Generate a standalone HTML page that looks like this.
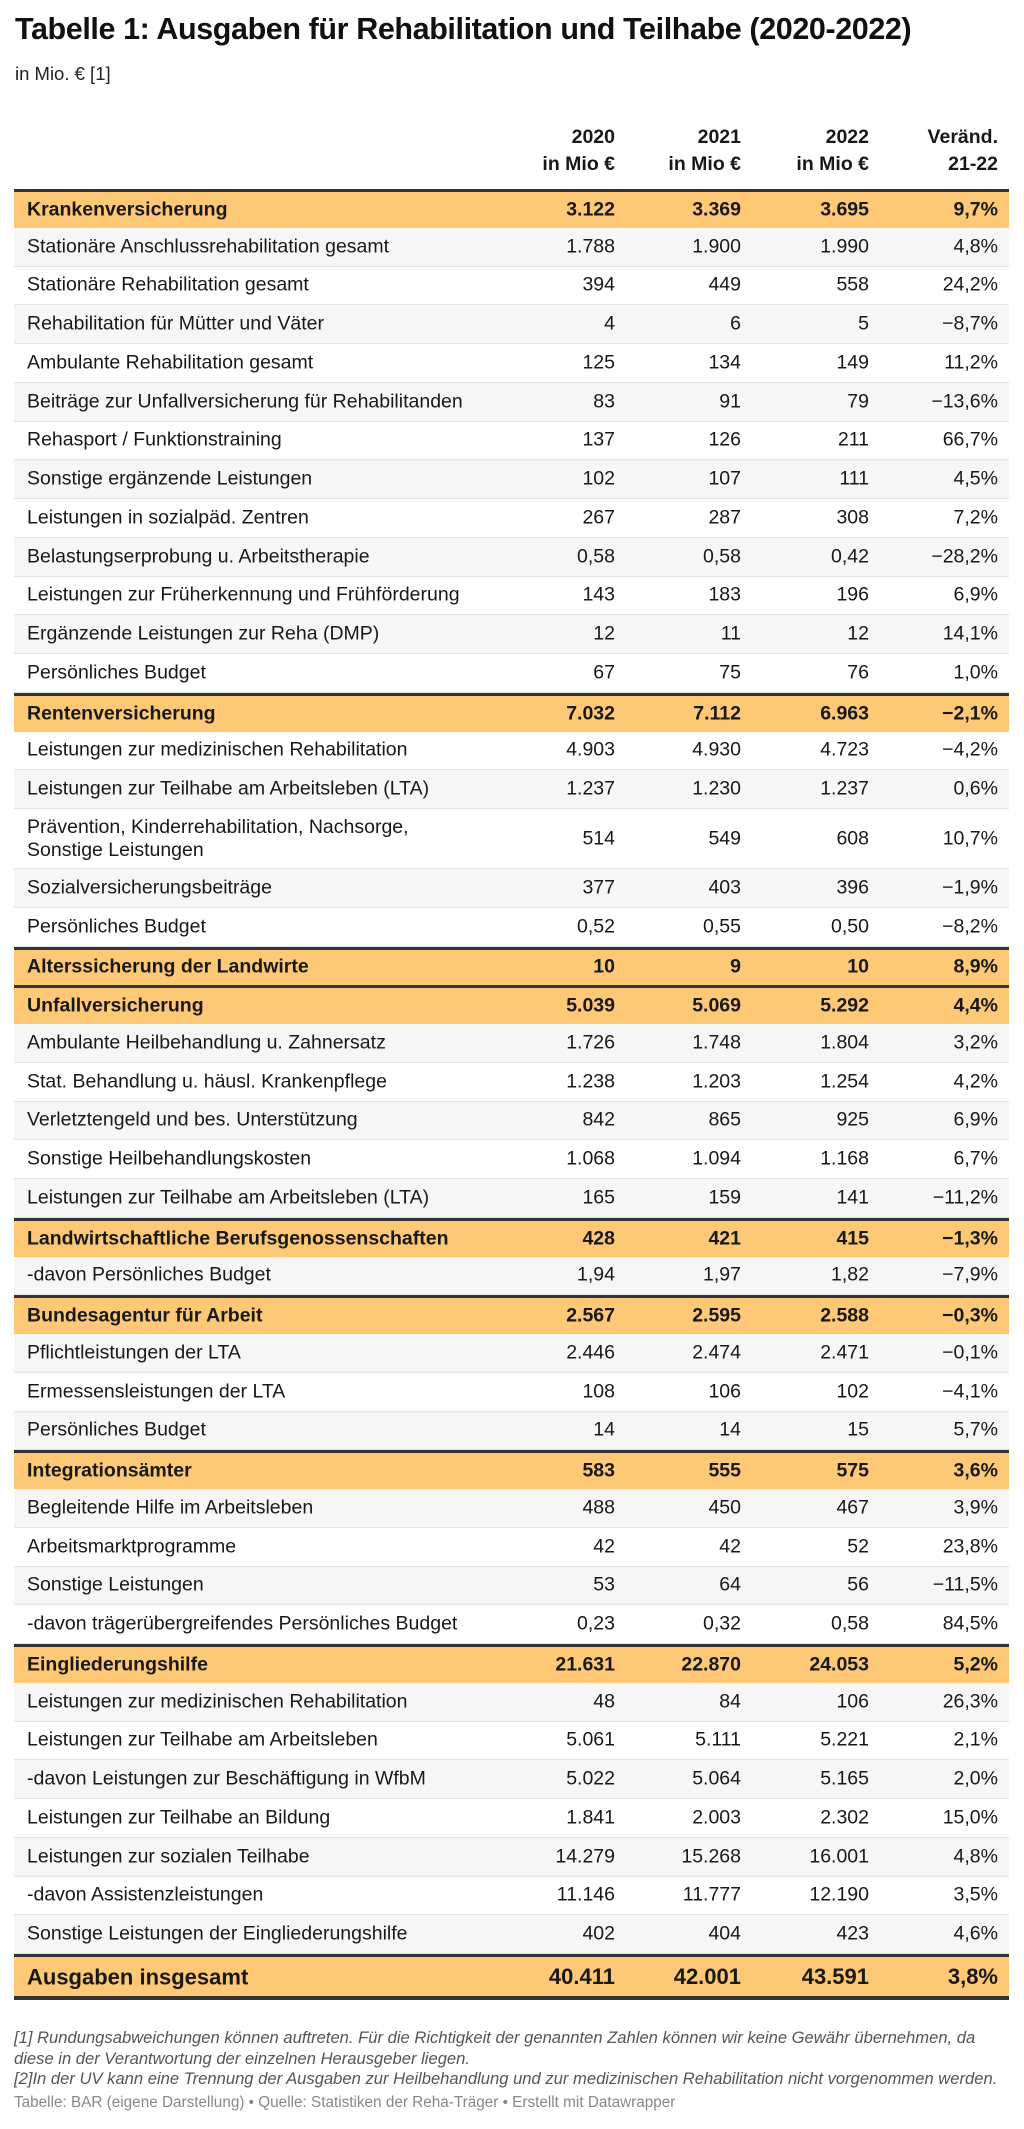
<!DOCTYPE html>
<html><head><meta charset="utf-8"><style>
*{margin:0;padding:0;box-sizing:border-box}
body{width:1024px;height:2129px;background:#fff;font-family:"Liberation Sans",Arial,sans-serif;color:#181818;position:relative;overflow:hidden}
h1{position:absolute;left:15px;top:12px;font-size:30.5px;font-weight:bold;letter-spacing:-0.4px;color:#111}
.sub{position:absolute;left:15px;top:63px;font-size:18.5px;color:#222}
.hd{position:absolute;top:124px;font-size:19.5px;font-weight:bold;text-align:right;line-height:27px}
.tbl{position:absolute;left:14px;top:189px;width:995px}
.r{position:relative;height:38.75px;border-bottom:1px solid #e3e3e3;font-size:19.5px}
.r.g{background:#f6f6f6}
.r.h{background:#fdc976;font-weight:bold;border-top:3px solid #333;border-bottom:none}
.r span{position:absolute;top:50%;transform:translateY(-50%);white-space:nowrap}
.r .l{left:13px;line-height:23px}
.c1{right:394px}.c2{right:268px}.c3{right:140px}.c4{right:11px}
.r.t{height:46px;font-size:22px;border-bottom:4px solid #333}
.fn{position:absolute;left:14px;font-size:16.6px;font-style:italic;color:#555;line-height:20.5px}
.src{position:absolute;left:14px;top:2094px;font-size:15.3px;color:#888}
</style></head><body>
<h1>Tabelle 1: Ausgaben für Rehabilitation und Teilhabe (2020-2022)</h1>
<div class="sub">in Mio. € [1]</div>
<div class="hd" style="right:409px">2020<br>in Mio €</div>
<div class="hd" style="right:283px">2021<br>in Mio €</div>
<div class="hd" style="right:155px">2022<br>in Mio €</div>
<div class="hd" style="right:26px">Veränd.<br>21-22</div>
<div class="tbl">
<div class="r h"><span class="l">Krankenversicherung</span><span class="c1">3.122</span><span class="c2">3.369</span><span class="c3">3.695</span><span class="c4">9,7%</span></div>
<div class="r g"><span class="l">Stationäre Anschlussrehabilitation gesamt</span><span class="c1">1.788</span><span class="c2">1.900</span><span class="c3">1.990</span><span class="c4">4,8%</span></div>
<div class="r"><span class="l">Stationäre Rehabilitation gesamt</span><span class="c1">394</span><span class="c2">449</span><span class="c3">558</span><span class="c4">24,2%</span></div>
<div class="r g"><span class="l">Rehabilitation für Mütter und Väter</span><span class="c1">4</span><span class="c2">6</span><span class="c3">5</span><span class="c4">−8,7%</span></div>
<div class="r"><span class="l">Ambulante Rehabilitation gesamt</span><span class="c1">125</span><span class="c2">134</span><span class="c3">149</span><span class="c4">11,2%</span></div>
<div class="r g"><span class="l">Beiträge zur Unfallversicherung für Rehabilitanden</span><span class="c1">83</span><span class="c2">91</span><span class="c3">79</span><span class="c4">−13,6%</span></div>
<div class="r"><span class="l">Rehasport / Funktionstraining</span><span class="c1">137</span><span class="c2">126</span><span class="c3">211</span><span class="c4">66,7%</span></div>
<div class="r g"><span class="l">Sonstige ergänzende Leistungen</span><span class="c1">102</span><span class="c2">107</span><span class="c3">111</span><span class="c4">4,5%</span></div>
<div class="r"><span class="l">Leistungen in sozialpäd. Zentren</span><span class="c1">267</span><span class="c2">287</span><span class="c3">308</span><span class="c4">7,2%</span></div>
<div class="r g"><span class="l">Belastungserprobung u. Arbeitstherapie</span><span class="c1">0,58</span><span class="c2">0,58</span><span class="c3">0,42</span><span class="c4">−28,2%</span></div>
<div class="r"><span class="l">Leistungen zur Früherkennung und Frühförderung</span><span class="c1">143</span><span class="c2">183</span><span class="c3">196</span><span class="c4">6,9%</span></div>
<div class="r g"><span class="l">Ergänzende Leistungen zur Reha (DMP)</span><span class="c1">12</span><span class="c2">11</span><span class="c3">12</span><span class="c4">14,1%</span></div>
<div class="r"><span class="l">Persönliches Budget</span><span class="c1">67</span><span class="c2">75</span><span class="c3">76</span><span class="c4">1,0%</span></div>
<div class="r h"><span class="l">Rentenversicherung</span><span class="c1">7.032</span><span class="c2">7.112</span><span class="c3">6.963</span><span class="c4">−2,1%</span></div>
<div class="r"><span class="l">Leistungen zur medizinischen Rehabilitation</span><span class="c1">4.903</span><span class="c2">4.930</span><span class="c3">4.723</span><span class="c4">−4,2%</span></div>
<div class="r g"><span class="l">Leistungen zur Teilhabe am Arbeitsleben (LTA)</span><span class="c1">1.237</span><span class="c2">1.230</span><span class="c3">1.237</span><span class="c4">0,6%</span></div>
<div class="r" style="height:60px"><span class="l">Prävention, Kinderrehabilitation, Nachsorge,<br>Sonstige Leistungen</span><span class="c1">514</span><span class="c2">549</span><span class="c3">608</span><span class="c4">10,7%</span></div>
<div class="r g"><span class="l">Sozialversicherungsbeiträge</span><span class="c1">377</span><span class="c2">403</span><span class="c3">396</span><span class="c4">−1,9%</span></div>
<div class="r"><span class="l">Persönliches Budget</span><span class="c1">0,52</span><span class="c2">0,55</span><span class="c3">0,50</span><span class="c4">−8,2%</span></div>
<div class="r h"><span class="l">Alterssicherung der Landwirte</span><span class="c1">10</span><span class="c2">9</span><span class="c3">10</span><span class="c4">8,9%</span></div>
<div class="r h"><span class="l">Unfallversicherung</span><span class="c1">5.039</span><span class="c2">5.069</span><span class="c3">5.292</span><span class="c4">4,4%</span></div>
<div class="r g"><span class="l">Ambulante Heilbehandlung u. Zahnersatz</span><span class="c1">1.726</span><span class="c2">1.748</span><span class="c3">1.804</span><span class="c4">3,2%</span></div>
<div class="r"><span class="l">Stat. Behandlung u. häusl. Krankenpflege</span><span class="c1">1.238</span><span class="c2">1.203</span><span class="c3">1.254</span><span class="c4">4,2%</span></div>
<div class="r g"><span class="l">Verletztengeld und bes. Unterstützung</span><span class="c1">842</span><span class="c2">865</span><span class="c3">925</span><span class="c4">6,9%</span></div>
<div class="r"><span class="l">Sonstige Heilbehandlungskosten</span><span class="c1">1.068</span><span class="c2">1.094</span><span class="c3">1.168</span><span class="c4">6,7%</span></div>
<div class="r g"><span class="l">Leistungen zur Teilhabe am Arbeitsleben (LTA)</span><span class="c1">165</span><span class="c2">159</span><span class="c3">141</span><span class="c4">−11,2%</span></div>
<div class="r h"><span class="l">Landwirtschaftliche Berufsgenossenschaften</span><span class="c1">428</span><span class="c2">421</span><span class="c3">415</span><span class="c4">−1,3%</span></div>
<div class="r g"><span class="l">-davon Persönliches Budget</span><span class="c1">1,94</span><span class="c2">1,97</span><span class="c3">1,82</span><span class="c4">−7,9%</span></div>
<div class="r h"><span class="l">Bundesagentur für Arbeit</span><span class="c1">2.567</span><span class="c2">2.595</span><span class="c3">2.588</span><span class="c4">−0,3%</span></div>
<div class="r g"><span class="l">Pflichtleistungen der LTA</span><span class="c1">2.446</span><span class="c2">2.474</span><span class="c3">2.471</span><span class="c4">−0,1%</span></div>
<div class="r"><span class="l">Ermessensleistungen der LTA</span><span class="c1">108</span><span class="c2">106</span><span class="c3">102</span><span class="c4">−4,1%</span></div>
<div class="r g"><span class="l">Persönliches Budget</span><span class="c1">14</span><span class="c2">14</span><span class="c3">15</span><span class="c4">5,7%</span></div>
<div class="r h"><span class="l">Integrationsämter</span><span class="c1">583</span><span class="c2">555</span><span class="c3">575</span><span class="c4">3,6%</span></div>
<div class="r g"><span class="l">Begleitende Hilfe im Arbeitsleben</span><span class="c1">488</span><span class="c2">450</span><span class="c3">467</span><span class="c4">3,9%</span></div>
<div class="r"><span class="l">Arbeitsmarktprogramme</span><span class="c1">42</span><span class="c2">42</span><span class="c3">52</span><span class="c4">23,8%</span></div>
<div class="r g"><span class="l">Sonstige Leistungen</span><span class="c1">53</span><span class="c2">64</span><span class="c3">56</span><span class="c4">−11,5%</span></div>
<div class="r"><span class="l">-davon trägerübergreifendes Persönliches Budget</span><span class="c1">0,23</span><span class="c2">0,32</span><span class="c3">0,58</span><span class="c4">84,5%</span></div>
<div class="r h"><span class="l">Eingliederungshilfe</span><span class="c1">21.631</span><span class="c2">22.870</span><span class="c3">24.053</span><span class="c4">5,2%</span></div>
<div class="r g"><span class="l">Leistungen zur medizinischen Rehabilitation</span><span class="c1">48</span><span class="c2">84</span><span class="c3">106</span><span class="c4">26,3%</span></div>
<div class="r"><span class="l">Leistungen zur Teilhabe am Arbeitsleben</span><span class="c1">5.061</span><span class="c2">5.111</span><span class="c3">5.221</span><span class="c4">2,1%</span></div>
<div class="r g"><span class="l">-davon Leistungen zur Beschäftigung in WfbM</span><span class="c1">5.022</span><span class="c2">5.064</span><span class="c3">5.165</span><span class="c4">2,0%</span></div>
<div class="r"><span class="l">Leistungen zur Teilhabe an Bildung</span><span class="c1">1.841</span><span class="c2">2.003</span><span class="c3">2.302</span><span class="c4">15,0%</span></div>
<div class="r g"><span class="l">Leistungen zur sozialen Teilhabe</span><span class="c1">14.279</span><span class="c2">15.268</span><span class="c3">16.001</span><span class="c4">4,8%</span></div>
<div class="r"><span class="l">-davon Assistenzleistungen</span><span class="c1">11.146</span><span class="c2">11.777</span><span class="c3">12.190</span><span class="c4">3,5%</span></div>
<div class="r g"><span class="l">Sonstige Leistungen der Eingliederungshilfe</span><span class="c1">402</span><span class="c2">404</span><span class="c3">423</span><span class="c4">4,6%</span></div>
<div class="r h t"><span class="l">Ausgaben insgesamt</span><span class="c1">40.411</span><span class="c2">42.001</span><span class="c3">43.591</span><span class="c4">3,8%</span></div>
</div>
<div class="fn" style="top:2028px">[1] Rundungsabweichungen können auftreten. Für die Richtigkeit der genannten Zahlen können wir keine Gewähr übernehmen, da<br>diese in der Verantwortung der einzelnen Herausgeber liegen.<br>[2]In der UV kann eine Trennung der Ausgaben zur Heilbehandlung und zur medizinischen Rehabilitation nicht vorgenommen werden.</div>
<div class="src">Tabelle: BAR (eigene Darstellung) • Quelle: Statistiken der Reha-Träger • Erstellt mit Datawrapper</div>
</body></html>
